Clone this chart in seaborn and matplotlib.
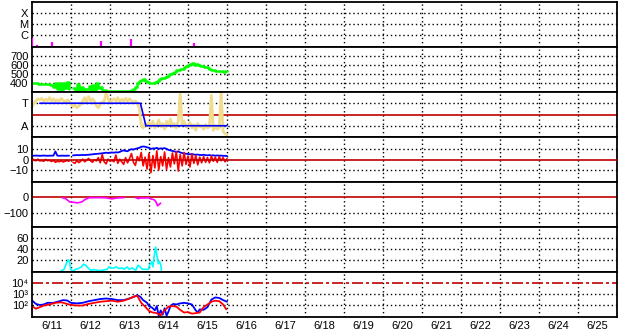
import numpy as np
import pandas as pd
import matplotlib
matplotlib.use("Agg")
import matplotlib.pyplot as plt
import seaborn as sns

# ---------------- data ----------------
day_labels = ["6/11", "6/12", "6/13", "6/14", "6/15", "6/16", "6/17", "6/18",
              "6/19", "6/20", "6/21", "6/22", "6/23", "6/24", "6/25"]

# X-ray flares (time in days from 6/11 00:00, peak flux W/m^2)
flare_t = [0.0, 0.14, 0.52, 1.77, 2.53, 4.16]
flare_flux = [5.3e-7, 1.2e-7, 2.5e-7, 3.0e-7, 4.3e-7, 1.8e-7]
xray_ticks = [1e-6, 1e-5, 1e-4]
xray_labels = ["C", "M", "X"]

# common 0.05-day time grid for the solar-wind series
t_sw = np.round(np.arange(101) * 0.05, 2)

speed = [398, 396, 395, 392, 394, 390, 388, 386, 384, 380,
         378, 360, 395, 330, 405, 320, 400, 340, 410, 330,
         np.nan, 345, 310, 390, 325, 350, 315, 335, 330, 370,
         320, 380, 325, 395, 340, 360, 322, 318, 315, 316,
         312, 315, 310, 314, 312, 310, 313, 311, 315, 312,
         316, 318, 330, 360, 400, 425, 430, 440, 420, 415,
         405, 400, 405, 415, 425, 440, 450, 460, 470, 480,
         495, 505, 515, 525, 540, 545, 550, 560, 575, 590,
         605, 615, 618, 605, 608, 598, 592, 585, 580, 575,
         570, 555, 545, 540, 535, 530, 528, 530, 525, 530, 528]
speed_ticks = [400, 500, 600, 700]

sector_phi = [0.35, 0.5, 0.6, 0.7, 0.65, 0.72, 0.6, 0.68, 0.62, 0.75,
              0.6, 0.7, 0.58, 0.66, 0.6, 0.72, 0.62, 0.55, 0.65, 0.6,
              0.45, 0.35, 0.42, 0.3, 0.38, 0.45, 0.6, 0.75, 0.55, 0.8,
              0.6, 0.7, 0.58, 0.4, 0.3, 0.45, 0.55, 0.6, 0.95, 0.7,
              0.55, 0.65, 0.7, 0.6, 0.75, 0.55, 0.68, 0.6, 0.72, 0.58,
              0.7, 0.62, 0.55, 0.6, 0.5, 0.3, -0.45, -0.6, -0.4, -0.5,
              -0.35, -0.55, -0.3, -0.6, -0.45, -0.25, -0.55, -0.4, -0.65, -0.3,
              -0.5, -0.2, -0.55, -0.4, -0.6, -0.3, 0.9, -0.45, -0.3, -0.55,
              -0.5, -0.35, -0.6, -0.45, -0.7, -0.4, -0.55, -0.5, -0.65, -0.45,
              -0.6, -0.55, 0.85, -0.7, -0.5, -0.65, -0.6, 0.95, -0.75, -0.85, -0.9]
sector_t = [0.2, 2.78, 2.85, 2.92, 5.0]
sector_v = [0.5, 0.5, 0.0, -0.5, -0.5]
sector_ticks = [0.5, -0.5]
sector_labels = ["T", "A"]

bt = [3.5, 3.9, 4.0, 3.9, 3.8, 3.9, 4.0, 3.9, 3.8, 3.9,
      3.9, 4.0, 8.0, 3.9, 3.8, 3.9, 3.9, 3.8, 3.9, 3.9,
      np.nan, 4.2, 4.3, 4.5, 4.4, 4.5, 4.6, 4.5, 4.7, 4.8,
      5.0, 5.2, 5.5, 5.6, 5.8, 6.0, 6.2, 6.5, 6.8, 6.5,
      6.8, 7.0, 6.8, 7.2, 7.0, 7.5, 8.5, 9.0, 8.5, 8.2,
      9.5, 10.2, 9.8, 10.5, 11.0, 11.5, 12.5, 12.8, 12.6, 12.0,
      11.5, 10.5, 11.0, 10.8, 11.5, 10.5, 11.0, 10.8, 11.2, 10.5,
      9.5, 9.0, 8.5, 8.0, 7.5, 8.0, 7.0, 6.5, 6.0, 5.8,
      5.5, 5.2, 5.5, 5.0, 4.8, 5.0, 4.6, 4.5, 4.8, 4.4,
      4.2, 4.5, 4.0, 4.3, 3.8, 4.2, 3.9, 4.0, 3.7, 3.8, 3.6]
bz = [1.5, -0.5, -1.0, 0.5, -1.2, -0.8, -1.5, 0.3, -1.0, -0.5,
      -1.8, -0.6, -2.5, -1.5, -2.0, -1.0, -2.2, -1.4, -0.8, -1.6,
      np.nan, -2.5, -3.5, -1.0, -2.8, -1.5, 0.5, -2.0, -0.5, 1.2,
      -1.0, -2.5, 0.0, -1.2, 2.0, -3.0, 5.0, -2.0, -4.0, 0.5,
      -1.5, -0.5, -2.0, 4.5, -3.5, 0.5, -2.0, -4.5, 2.0, -3.0,
      1.0, 6.0, -2.5, -5.5, 3.0, -1.0, 7.0, -6.0, 2.5, -9.0,
      6.0, -12.5, 4.0, -8.0, 8.5, -10.0, 3.0, -6.0, 7.5, -9.5,
      2.0, -7.0, 6.5, -4.0, 8.0, -11.0, 5.0, -6.0, 7.0, -4.5,
      3.5, -7.0, 5.5, -3.5, 4.0, -5.0, 2.5, -3.0, 3.0, -2.5,
      2.0, -3.0, 3.5, -1.5, 2.5, -2.5, 3.0, -1.0, 2.0, -2.0, 1.0]
bz_ticks = [10, 0, -10]

dst_t = [0.78, 0.85, 0.92, 0.97, 1.03, 1.10, 1.16, 1.22, 1.29, 1.35,
         1.46, 1.60, 1.75, 1.90, 1.97, 2.05, 2.15, 2.25, 2.36, 2.50,
         2.66, 2.72, 2.80, 2.90, 3.00, 3.07, 3.13, 3.18, 3.22, 3.25, 3.30]
dst = [-3, -6, -20, -30, -32, -33, -36, -33, -28, -15,
       -3, -2, -2, -3, -6, -10, -5, -3, -2, np.nan,
       -2, -8, -3, -4, -3, -12, -15, -30, -55, -48, -38]
dst_ticks = [0, -100]

kp_t = [0.735, 0.82, 0.88, 0.93, 0.966, 0.99, 1.05, 1.12, 1.19, 1.27,
        1.32, 1.38, 1.44, 1.50, 1.59, 1.72, 1.85, 1.93, 1.97, 2.04,
        2.10, 2.16, 2.23, 2.32, 2.36, 2.44, 2.49, 2.57, 2.66, 2.72,
        2.77, 2.83, 2.91, 2.98, 3.02, 3.07, 3.10, 3.13, 3.17, 3.21,
        3.24, 3.27, 3.30, 3.32]
kp = [0, 3.5, 14, 21, 17, 3.6, 0, 3.6, 5, 8,
      13, 11, 6, 2, 3, 1.2, 2.4, 3.6, 8, 6,
      6, 8, 5, 6, 3.6, 8, 3.6, 6, 2, 11,
      8, 3.6, 3.6, 3.6, 12, 17, 8, 26, 44, 26,
      14, 18, 12, 0]
kp_ticks = [20, 40, 60]

# particle flux, log10 units
pb_t = [0.0, 0.1, 0.2, 0.3, 0.4, 0.55, 0.7, 0.8, 0.9, 1.0,
        1.15, 1.3, 1.45, 1.6, 1.75, 1.9, 2.05, 2.2, 2.35, 2.5,
        2.6, 2.7, 2.78, 2.85, 2.95, 3.0, 3.08, 3.15, 3.2, 3.25,
        3.3, 3.35, 3.4, 3.45, 3.5, 3.55, 3.62, 3.7, 3.8, 3.9,
        4.0, 4.1, 4.2, 4.25, 4.3, 4.4, 4.5, 4.6, 4.7, 4.8, 4.9, 5.0]
pb_log = [2.43, 2.1, 2.0, 2.05, 2.2, 2.2, 2.35, 2.45, 2.42, 2.2,
          2.15, 2.2, 2.35, 2.45, 2.55, 2.6, 2.55, 2.45, 2.45, 2.6,
          2.75, 2.9, 2.75, 2.45, 2.2, 1.9, 1.75, 1.5, 1.9, 1.0,
          1.5, 1.1, 1.7, 1.0, 1.4, 1.9, 2.1, 2.05, 2.15, 2.2,
          2.15, 2.05, 1.5, 1.3, 1.6, 1.55, 1.8, 2.5, 2.7, 2.65, 2.45, 2.3]
pr_t = [0.0, 0.1, 0.2, 0.3, 0.45, 0.6, 0.75, 0.9, 1.0, 1.15,
        1.3, 1.45, 1.6, 1.75, 1.9, 2.05, 2.2, 2.35, 2.5, 2.6,
        2.7, 2.8, 2.9, 3.0, 3.1, 3.2, 3.3, 3.4, 3.5, 3.6,
        3.7, 3.8, 3.9, 4.0, 4.1, 4.2, 4.3, 4.4, 4.5, 4.6,
        4.7, 4.8, 4.9, 4.98]
pr_log = [1.9, 1.65, 1.8, 1.95, 2.05, 2.2, 2.25, 2.1, 2.0, 1.95,
          1.95, 2.1, 2.2, 2.3, 2.35, 2.4, 2.3, 2.4, 2.6, 2.75,
          2.85, 2.2, 1.85, 1.45, 1.3, 1.25, 1.05, 1.5, 1.85, 1.9,
          1.85, 1.55, 1.3, 1.35, 1.2, 1.25, 1.3, 1.8, 2.05, 2.3,
          2.4, 2.35, 2.05, 1.6]
flux_ticks = [4, 3, 2]
flux_labels = ["10\u2074", "10\u00b3", "10\u00b2"]

# ---------------- style ----------------
sns.set_theme(style="white")
plt.rcParams["font.family"] = ["Liberation Sans", "DejaVu Sans"]

MAG = "#ff00ff"
GRN = "#00ff00"
YEL = "#f0dc8c"
BLU = "#0000ff"
RED = "#ff0000"
DRED = "#c00000"
CYN = "#00ffff"
DOT = (0, (1, 2))
FS = 8

fig = plt.figure(figsize=(6.28, 3.34), dpi=100)
gs = fig.add_gridspec(7, 1, left=32 / 628, right=617 / 628,
                      top=1 - 2 / 334, bottom=1 - 317 / 334, hspace=0)
axes = [fig.add_subplot(gs[i]) for i in range(7)]


def line(ax, t, v, color, lw=1.0, **kw):
    t = np.asarray(t, float)
    v = np.asarray(v, float)
    seg = np.cumsum(np.isnan(v))
    df = pd.DataFrame({"t": t, "v": v, "seg": seg}).dropna()
    sns.lineplot(data=df, x="t", y="v", units="seg", estimator=None,
                 sort=False, color=color, lw=lw, ax=ax, legend=False, **kw)


def hgrid(ax, ys):
    for y in ys:
        ax.axhline(y, color="black", lw=1.0, ls=DOT, zorder=1)


for ax in axes:
    ax.set_xlim(0, 15)
    for d in range(1, 15):
        ax.axvline(d, color="black", lw=1.0, ls=DOT, zorder=1)
    for s in ax.spines.values():
        s.set_color("black")
        s.set_linewidth(1.3)
    ax.tick_params(axis="y", length=0, pad=2.5, labelsize=FS, colors="black")
    ax.tick_params(axis="x", which="both", length=0, labelbottom=False)
    ax.set_facecolor("white")

# 1: X-ray flares
ax = axes[0]
ax.set_yscale("log")
ax.set_ylim(10 ** -7.09, 1e-3)
hgrid(ax, xray_ticks)
ax.vlines(flare_t, 10 ** -7.09, flare_flux, color=MAG, lw=1.6, zorder=3)
ax.set_yticks(xray_ticks)
ax.set_yticklabels(xray_labels)
ax.minorticks_off()

# 2: solar wind speed
ax = axes[1]
ax.set_ylim(300, 800)
hgrid(ax, speed_ticks)
line(ax, t_sw, speed, GRN, lw=1.8, drawstyle="steps-post")
ax.set_yticks(speed_ticks)

# 3: sector
ax = axes[2]
ax.set_ylim(-1, 1)
hgrid(ax, sector_ticks)
ax.axhline(0, color=DRED, lw=1.2, zorder=2)
line(ax, t_sw, sector_phi, YEL, lw=2.0)
line(ax, sector_t, sector_v, BLU, lw=1.2)
ax.set_yticks(sector_ticks)
ax.set_yticklabels(sector_labels)

# 4: Bz / Bt
ax = axes[3]
ax.set_ylim(-21.6, 22)
hgrid(ax, [10, -10])
ax.axhline(0, color=DRED, lw=1.2, zorder=4)
line(ax, t_sw, bt, BLU, lw=1.3)
line(ax, t_sw, bz, RED, lw=1.2)
ax.set_yticks(bz_ticks)

# 5: Dst
ax = axes[4]
ax.set_ylim(-193, 100)
hgrid(ax, [-100])
ax.axhline(0, color=DRED, lw=1.2, zorder=2)
line(ax, dst_t, dst, MAG, lw=1.2)
ax.set_yticks(dst_ticks)

# 6: Kp-like index
ax = axes[5]
ax.set_ylim(-1.3, 80.5)
hgrid(ax, kp_ticks)
line(ax, kp_t, kp, CYN, lw=1.2)
ax.set_yticks(kp_ticks)

# 7: particle flux
ax = axes[6]
ax.set_ylim(0.89, 5.05)
hgrid(ax, [3, 2])
ax.axhline(4, color=DRED, lw=1.2, ls=(0, (6.6, 1.8, 1.8, 1.8)), zorder=2)
line(ax, pb_t, pb_log, BLU, lw=1.3)
line(ax, pr_t, pr_log, RED, lw=1.3)
ax.set_yticks(flux_ticks)
ax.set_yticklabels(flux_labels)
ax.set_xticks(np.arange(15) + 0.5)
ax.set_xticklabels(day_labels)
ax.set_xticks(np.arange(1, 15), minor=True)
ax.tick_params(axis="x", which="major", length=0, labelbottom=True,
               labelsize=FS, pad=3, colors="black")
ax.tick_params(axis="x", which="minor", length=2.5, width=1, direction="out",
               colors="black")

for ax in axes:
    ax.set_xlabel("")
    ax.set_ylabel("")

fig.savefig("out.png", dpi=100, facecolor="white")
